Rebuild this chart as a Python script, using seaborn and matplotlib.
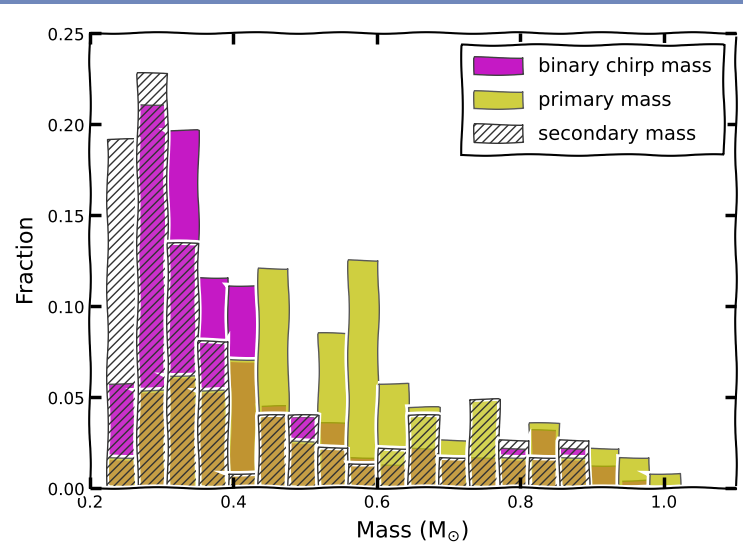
import numpy as np
import pandas as pd
import matplotlib
matplotlib.use("Agg")
import matplotlib.pyplot as plt
from matplotlib.patches import Rectangle
from matplotlib.patheffects import AbstractPathEffect, Normal
import seaborn as sns

# Histogram bins in solar masses
bin_start = 0.224
bin_width = 0.042
n_bins = 19

# Fraction of systems per bin
chirp_mass = [0.0575, 0.211, 0.1967, 0.1161, 0.1115, 0.045, 0.039, 0.0355, 0.0172,
              0.013, 0.0218, 0.0168, 0.0172, 0.0218, 0.0319, 0.0218, 0.0126, 0.0044, 0.0]
primary_mass = [0.0172, 0.0538, 0.0621, 0.0538, 0.0712, 0.1207, 0.026, 0.0854, 0.1256,
                0.0575, 0.0447, 0.0264, 0.0487, 0.0172, 0.0359, 0.0172, 0.0218, 0.0172, 0.0081]
secondary_mass = [0.192, 0.228, 0.1348, 0.081, 0.0084, 0.040, 0.040, 0.0227, 0.0136,
                  0.022, 0.040, 0.0172, 0.0487, 0.0264, 0.0172, 0.0264, 0.0, 0.0, 0.0]

series_labels = ["binary chirp mass", "primary mass", "secondary mass"]
x_ticks = [0.2, 0.4, 0.6, 0.8, 1.0]
y_ticks = [0.00, 0.05, 0.10, 0.15, 0.20, 0.25]

edges = [float(e) for e in bin_start + bin_width * np.arange(n_bins + 1)]
centers = [0.5 * (a + b) for a, b in zip(edges[:-1], edges[1:])]

df = pd.DataFrame({"mass": centers, "chirp": chirp_mass,
                   "primary": primary_mass, "secondary": secondary_mass})

# (weights column, label, face rgba, edge colour, hatch)
layers = [
    ("chirp", series_labels[0], (0.75, 0.0, 0.75, 0.9), "0.25", None),
    ("primary", series_labels[1], (0.75, 0.75, 0.0, 0.75), "0.35", None),
    ("secondary", series_labels[2], (1.0, 1.0, 1.0, 0.1), "0.2", "////"),
]


class WhiteHalo(AbstractPathEffect):
    """White outline behind a patch, without filling its face a second time."""

    def __init__(self, linewidth=4):
        super().__init__()
        self._lw = linewidth

    def draw_path(self, renderer, gc, tpath, affine, rgbFace=None):
        gc0 = renderer.new_gc()
        gc0.copy_properties(gc)
        gc0.set_foreground("w")
        gc0.set_linewidth(self._lw)
        gc0.set_hatch(None)
        renderer.draw_path(gc0, tpath, affine, None)
        gc0.restore()


halo = [WhiteHalo(4), Normal()]

with plt.xkcd(scale=0.8, length=100, randomness=2):
    plt.rcParams["font.family"] = ["DejaVu Sans"]
    fig = plt.figure(figsize=(7.43, 5.54), dpi=100)
    ax = fig.add_axes([0.121, 0.119, 0.869, 0.821])

    for col, label, face, edge, hatch in layers:
        n_before = len(ax.patches)
        extra = {"hatch": hatch} if hatch else {}
        sns.histplot(data=df, x="mass", weights=col, bins=edges, stat="count",
                     element="bars", ax=ax, edgecolor=edge, linewidth=1.0,
                     label=label, **extra)
        for patch in ax.patches[n_before:]:
            patch.set_alpha(None)
            patch.set_facecolor(face)
            patch.set_edgecolor(edge)
            patch.set_path_effects(halo)

    ax.set_axisbelow(False)
    ax.set_xlim(0.2, 1.1)
    ax.set_ylim(0, 0.25)
    ax.set_xticks(x_ticks)
    ax.set_xticklabels([f"{t:.1f}" for t in x_ticks])
    ax.set_yticks(y_ticks)
    ax.set_yticklabels([f"{t:.2f}" for t in y_ticks])
    ax.tick_params(axis="both", which="major", direction="in", length=8, width=2.5,
                   top=True, right=True, labelsize=12, pad=4)
    for tick in ax.xaxis.get_major_ticks() + ax.yaxis.get_major_ticks():
        tick.tick1line.set_path_effects([])
        tick.tick2line.set_path_effects([])
    ax.set_xlabel(r"Mass (M$_{\odot}$)", fontsize=16, labelpad=6)
    ax.set_ylabel("Fraction", fontsize=16, labelpad=8)

    leg = ax.legend(loc="upper right", fontsize=14, frameon=True, fancybox=False,
                    edgecolor="black", framealpha=1, handlelength=2.5,
                    handleheight=1.0, labelspacing=0.75, borderpad=0.6,
                    borderaxespad=0.6)
    leg.get_frame().set_linewidth(1.5)
    for handle in leg.get_patches():
        handle.set_path_effects(halo)

    # thin banner along the top edge of the figure
    banner = Rectangle((0, 1 - 4 / 554), 1, 4 / 554, transform=fig.transFigure,
                       facecolor="#7088bb", edgecolor="none")
    banner.set_sketch_params(None)
    banner.set_path_effects([])
    fig.add_artist(banner)

    fig.savefig("out.png", dpi=100)
